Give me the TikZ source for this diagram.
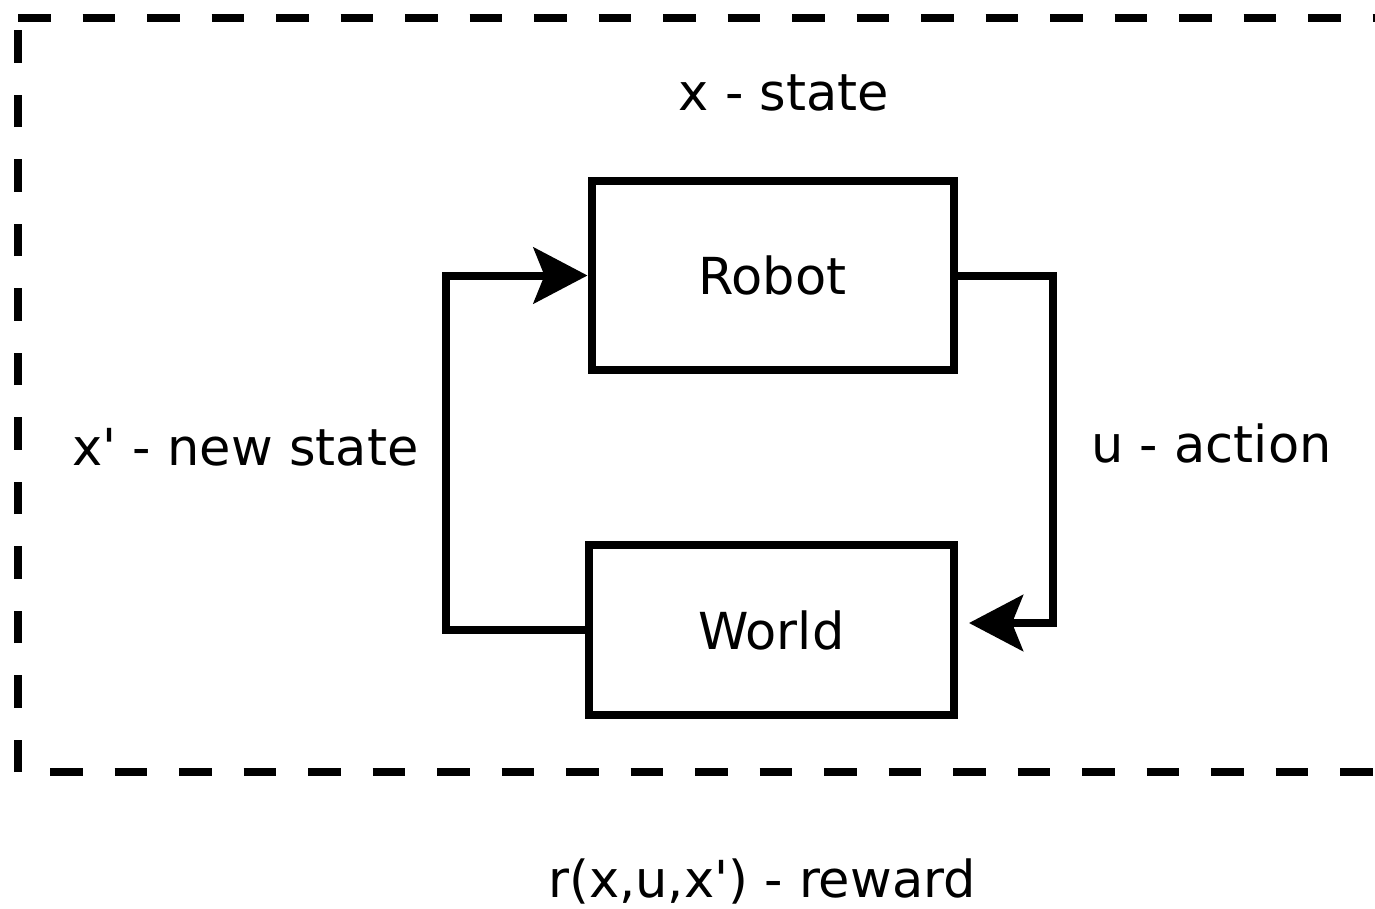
\documentclass[tikz,border=0pt]{standalone}
\usepackage{fontspec}
\setmainfont{DejaVu Sans}[Ligatures=TeXOff]
\usetikzlibrary{arrows.meta}
\begin{document}
\begin{tikzpicture}[x=1pt, y=-1pt,
  every node/.style={font=\fontsize{51pt}{61pt}\selectfont},
  block/.style={draw, line width=8pt, rectangle, inner sep=0pt},
  frame/.style={line width=8pt, dash pattern=on 32.5pt off 32pt},
  link/.style={line width=8pt, line join=miter,
    -{Stealth[length=54pt, width=56pt, inset=11pt]}},
  label/.style={anchor=base, inner sep=0pt}]
\useasboundingbox (0,0) rectangle (1375,908);
\clip (0,0) rectangle (1375,908);

% dashed environment frame (open to the right)
\coordinate (tl) at (18,18);
\coordinate (bl) at (18,772);
\coordinate (tr) at (1380,18);
\coordinate (br) at (1380,772);
\draw[frame] (bl) -- (tl);
\draw[frame] (tl) -- (tr);
\draw[frame, dash phase=32.5pt] (bl) -- (br);

% agent and environment blocks
\node[block, minimum width=362pt, minimum height=189pt] (robot) at (772.5,275.5) {Robot};
\node[block, minimum width=364.5pt, minimum height=170pt] (world) at (771.25,630) {World};

% feedback loop
\coordinate (uin) at (969,623);
\draw[link] (world.west) -- ++(-139,0) |- (robot.west);
\draw[link] (robot.east) -- ++(95,0) |- (uin);

% labels
\node[label] (xstate) at (784,110) {x - state};
\node[label] (xnew) at (245.5,465) {x' - new state};
\node[label] (uact) at (1211.5,462) {u - action};
\node[label] (rew) at (762,897) {r(x,u,x') - reward};
\end{tikzpicture}
\end{document}
